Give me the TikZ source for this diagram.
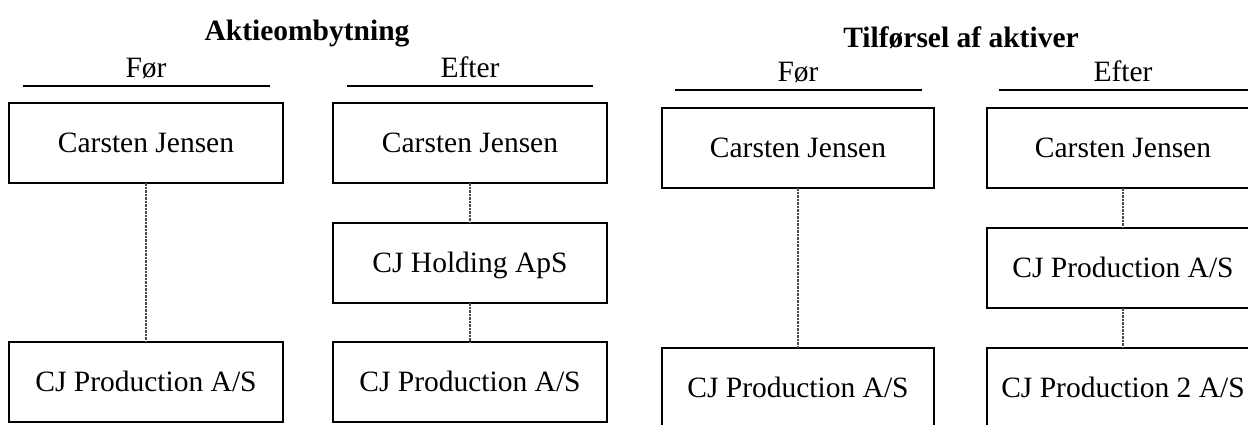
\documentclass[tikz,border=0pt]{standalone}
\usepackage{fontspec}
\setmainfont{Liberation Serif}
\begin{document}
\begin{tikzpicture}[x=1pt,y=-1pt,
  every node/.style={inner sep=0pt,outer sep=0pt},
  box/.style={draw=black,line width=2.5pt,minimum width=274pt,minimum height=80pt,
              text height=18pt,text depth=0pt,font=\fontsize{29.5}{34}\selectfont},
  link/.style={draw=black!70,line width=1.3pt,dash pattern=on 2.5pt off 1pt},
  rule/.style={line width=2.3pt},
  head/.style={anchor=base,font=\fontsize{29.5}{34}\selectfont\bfseries},
  sub/.style={anchor=base,font=\fontsize{29.5}{34}\selectfont}]
\useasboundingbox (0,0) rectangle (1248,424);
\fill[white] (0,0) rectangle (1248,424);

% Aktieombytning
\node[head] (h1) at (307,40) {Aktieombytning};
\node[sub] (f1) at (146,77) {Før};
\node[sub] (e1) at (470,77) {Efter};
\draw[rule] (23,86) -- (270,86);
\draw[rule] (347,86) -- (593,86);

\node[box] (a1) at (146,143) {Carsten Jensen};
\node[box] (a2) at (146,382) {CJ Production A/S};
\draw[link] (a1.south) -- (a2.north);

\node[box] (b1) at (470,143) {Carsten Jensen};
\node[box] (b2) at (470,263) {CJ Holding ApS};
\node[box] (b3) at (470,382) {CJ Production A/S};
\draw[link] (b1.south) -- (b2.north);
\draw[link] (b2.south) -- (b3.north);

% Tilførsel af aktiver
\node[head] (h2) at (961,47) {Tilførsel af aktiver};
\node[sub] (f2) at (798,81) {Før};
\node[sub] (e2) at (1123,81) {Efter};
\draw[rule] (675,90) -- (922,90);
\draw[rule] (999,90) -- (1248,90);

\node[box,minimum width=272pt] (c1) at (798,148) {Carsten Jensen};
\node[box,minimum width=272pt] (c2) at (798,388) {CJ Production A/S};
\draw[link] (c1.south) -- (c2.north);

\node[box,minimum width=272pt] (d1) at (1123,148) {Carsten Jensen};
\node[box,minimum width=272pt] (d2) at (1123,268) {CJ Production A/S};
\node[box,minimum width=272pt] (d3) at (1123,388) {CJ Production 2 A/S};
\draw[link] (d1.south) -- (d2.north);
\draw[link] (d2.south) -- (d3.north);
\end{tikzpicture}
\end{document}
